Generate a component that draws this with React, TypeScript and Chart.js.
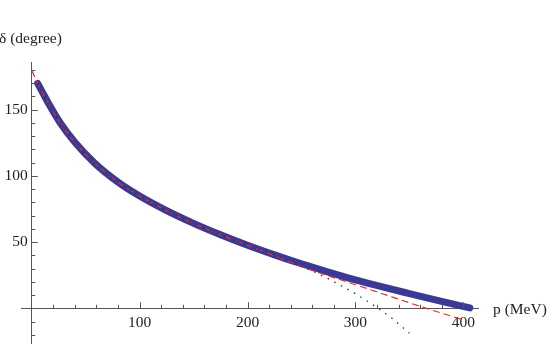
import React, { useEffect, useRef } from 'react';
import { Chart, registerables } from 'chart.js';

Chart.register(...registerables);

// Thick blue curve (exact result)
const blueP = [5.5, 10, 16, 26, 40, 58, 80, 100, 125, 150, 175, 200, 225, 250, 275, 300, 325, 350, 375, 406];
const blueDelta = [169.8, 163, 154, 140.4, 125.3, 109.8, 95.2, 84.7, 73.7, 64.1, 55.5, 47.6, 40.35, 33.6, 27.35, 21.45, 16.1, 11.1, 6.2, 0.3];

// Red dashed curve
const redP = [0, 5.5, 10, 16, 26, 40, 58, 80, 100, 125, 150, 175, 200, 225, 256, 290, 322, 361, 401];
const redDelta = [179.5, 169.8, 163, 154, 140.4, 125.3, 109.8, 95.2, 84.7, 73.7, 64.1, 55.5, 47.5, 39.6, 29.7, 20.5, 11.8, 1.2, -9];

// Black dotted curve
const dotP = [5.5, 10, 16, 26, 40, 58, 80, 100, 125, 150, 175, 200, 225, 240, 256, 271, 286.5, 300, 320.6, 335, 350];
const dotDelta = [169.8, 163, 154, 140.4, 125.3, 109.8, 95.2, 84.7, 73.7, 64.1, 55.5, 47.6, 40.2, 35.4, 29.6, 23.9, 17.2, 11, 0.2, -8.3, -18.8];

// Ticks
const xTicks = [20, 40, 60, 80, 100, 120, 140, 160, 180, 200, 220, 240, 260, 280, 300, 320, 340, 360, 380, 400];
const xMajor = [100, 200, 300, 400];
const yTicks = [-20, -10, 10, 20, 30, 40, 50, 60, 70, 80, 90, 100, 110, 120, 130, 140, 150, 160, 170, 180];
const yMajor = [50, 100, 150];

const xRange = [-9.3, 413.6];
const yRange = [-26.2, 185.9];

const xLabel = 'p (MeV)';
const yLabel = 'δ (degree)';

const FONT = '"Liberation Serif", "Times New Roman", serif';
const AXIS_COLOR = '#555';

const tickMarks = {
  id: 'tickMarks',
  afterDatasetsDraw(chart: any) {
    const { ctx, scales } = chart;
    const xs = scales.x;
    const ys = scales.y;
    const x0 = xs.getPixelForValue(0);
    const y0 = ys.getPixelForValue(0);
    ctx.save();
    ctx.strokeStyle = AXIS_COLOR;
    ctx.lineWidth = 1;
    ctx.beginPath();
    xTicks.forEach((v) => {
      const px = Math.round(xs.getPixelForValue(v)) + 0.5;
      const len = xMajor.includes(v) ? 6 : 3.5;
      ctx.moveTo(px, y0);
      ctx.lineTo(px, y0 - len);
    });
    yTicks.forEach((v) => {
      const py = Math.round(ys.getPixelForValue(v)) + 0.5;
      const len = yMajor.includes(v) ? 6 : 3.5;
      ctx.moveTo(x0, py);
      ctx.lineTo(x0 + len, py);
    });
    ctx.stroke();
    ctx.restore();
  },
};

function toPoints(xs: number[], ys: number[]) {
  return xs.map((x, i) => ({ x, y: ys[i] }));
}

export default function App() {
  const ref = useRef<HTMLCanvasElement | null>(null);

  useEffect(() => {
    if (!ref.current) return;
    const chart = new Chart(ref.current, {
      type: 'scatter',
      data: {
        datasets: [
          {
            data: toPoints(dotP, dotDelta),
            showLine: true,
            borderColor: '#333',
            borderWidth: 1.3,
            borderDash: [1.5, 6],
            pointRadius: 0,
            cubicInterpolationMode: 'monotone',
            order: 0,
          },
          {
            data: toPoints(redP, redDelta),
            showLine: true,
            borderColor: 'rgb(225,45,45)',
            borderWidth: 1.2,
            borderDash: [7, 4],
            pointRadius: 0,
            cubicInterpolationMode: 'monotone',
            order: 1,
          },
          {
            data: toPoints(blueP, blueDelta),
            showLine: true,
            borderColor: 'rgb(58,58,150)',
            borderWidth: 7,
            borderCapStyle: 'round',
            borderJoinStyle: 'round',
            pointRadius: 0,
            cubicInterpolationMode: 'monotone',
            clip: 6,
            order: 2,
          },
        ] as any,
      },
      options: {
        responsive: false,
        animation: false,
        events: [],
        layout: { autoPadding: false, padding: { left: 21.7, right: 80, top: 62, bottom: 4 } },
        plugins: { legend: { display: false }, tooltip: { enabled: false } },
        scales: {
          x: {
            type: 'linear',
            min: xRange[0],
            max: xRange[1],
            position: { y: 0 } as any,
            grid: { display: false, drawTicks: false },
            border: { display: true, color: AXIS_COLOR, width: 1 },
            afterBuildTicks: (s: any) => {
              s.ticks = xTicks.map((v) => ({ value: v }));
            },
            ticks: {
              autoSkip: false,
              maxRotation: 0,
              padding: 5,
              color: '#222',
              font: { family: FONT, size: 15.5 },
              callback: (v: any) => (xMajor.includes(Number(v)) ? String(v) : ''),
            },
          },
          y: {
            type: 'linear',
            min: yRange[0],
            max: yRange[1],
            position: { x: 0 } as any,
            grid: { display: false, drawTicks: false },
            border: { display: true, color: AXIS_COLOR, width: 1 },
            afterBuildTicks: (s: any) => {
              s.ticks = yTicks.map((v) => ({ value: v }));
            },
            ticks: {
              autoSkip: false,
              padding: 0,
              color: '#222',
              font: { family: FONT, size: 15.5, lineHeight: 0.01 },
              callback: (v: any) => (yMajor.includes(Number(v)) ? String(v) + ' ' : ''),
            },
          },
        },
      } as any,
      plugins: [tickMarks],
    });
    return () => chart.destroy();
  }, []);

  const labelStyle: React.CSSProperties = {
    position: 'absolute',
    fontFamily: FONT,
    fontSize: '15.5px',
    color: '#222',
    whiteSpace: 'nowrap',
    lineHeight: 'normal',
  };

  return (
    <div style={{ position: 'absolute', left: 0, top: 0, width: 558, height: 347, background: '#fff', overflow: 'hidden' }}>
      <canvas ref={ref} width={558} height={347} style={{ display: 'block', width: 558, height: 347 }} />
      <div style={{ ...labelStyle, left: -1, top: 29 }}>{yLabel}</div>
      <div style={{ ...labelStyle, left: 493, top: 299.5 }}>{xLabel}</div>
    </div>
  );
}
